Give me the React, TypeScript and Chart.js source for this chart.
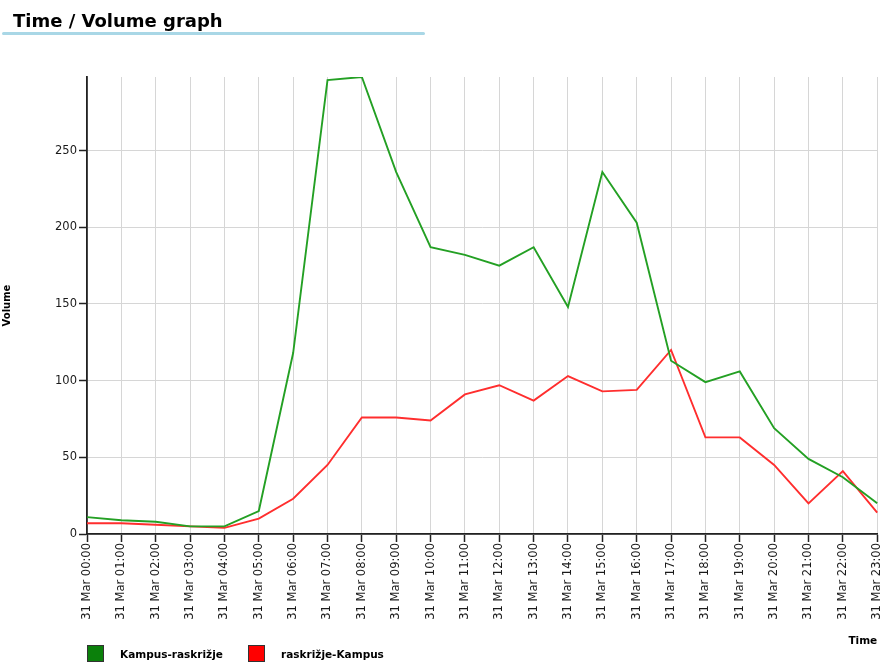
import React, { useEffect, useRef } from "react";
import { Chart, registerables } from "chart.js";

Chart.register(...registerables);

const hours = [
  "00:00", "01:00", "02:00", "03:00", "04:00", "05:00", "06:00", "07:00",
  "08:00", "09:00", "10:00", "11:00", "12:00", "13:00", "14:00", "15:00",
  "16:00", "17:00", "18:00", "19:00", "20:00", "21:00", "22:00", "23:00",
];
const categories = hours.map((h) => "31 Mar " + h);

const kampusRaskrizje = [11, 9, 8, 5, 5, 15, 118, 296, 298, 236, 187, 182, 175, 187, 148, 236, 203, 113, 99, 106, 69, 49, 37, 20];
const raskrizjeKampus = [7, 7, 6, 5, 4, 10, 23, 45, 76, 76, 74, 91, 97, 87, 103, 93, 94, 120, 63, 63, 45, 20, 41, 14];

const seriesNames = ["Kampus-raskrižje", "raskrižje-Kampus"];
const lineColors = ["#24a024", "#ff2e2e"];
const legendColors = ["#0b800b", "#ff0000"];

const yMax = 298;
const yTicks = [0, 50, 100, 150, 200, 250];

const FONT = "'DejaVu Sans', Verdana, sans-serif";
const CANVAS_W = 892;

export default function App() {
  const canvasRef = useRef<HTMLCanvasElement | null>(null);

  useEffect(() => {
    const ctx = canvasRef.current!;
    const chart = new Chart(ctx, {
      type: "line",
      data: {
        labels: categories,
        datasets: [
          {
            label: seriesNames[0],
            data: kampusRaskrizje,
            borderColor: lineColors[0],
            backgroundColor: lineColors[0],
            borderWidth: 1.9,
            pointRadius: 0,
            tension: 0,
            fill: false,
          },
          {
            label: seriesNames[1],
            data: raskrizjeKampus,
            borderColor: lineColors[1],
            backgroundColor: lineColors[1],
            borderWidth: 1.9,
            pointRadius: 0,
            tension: 0,
            fill: false,
          },
        ],
      },
      options: {
        animation: false,
        responsive: false,
        maintainAspectRatio: false,
        layout: { padding: { top: 77, left: 0, right: 0, bottom: 0 } },
        plugins: {
          legend: { display: false },
          tooltip: { enabled: false },
        },
        scales: {
          x: {
            afterFit: (scale: any) => {
              scale.height = 129;
            },
            grid: {
              color: "#d6d6d6",
              tickColor: "#222222",
              tickLength: 8,
              tickWidth: 1.5,
              lineWidth: 1,
            },
            border: { color: "#222222", width: 1.8 },
            ticks: {
              autoSkip: false,
              minRotation: 90,
              maxRotation: 90,
              padding: 1,
              color: "#1a1a1a",
              font: { family: FONT, size: 11.5 },
            },
            title: {
              display: true,
              text: "Time",
              align: "end",
              color: "#000000",
              font: { family: FONT, size: 10.5, weight: "bold" },
              padding: { top: 0, bottom: 15 },
            },
          },
          y: {
            min: 0,
            max: yMax,
            afterFit: (scale: any) => {
              scale.width = 87;
            },
            afterBuildTicks: (scale: any) => {
              scale.ticks = yTicks.map((v) => ({ value: v }));
            },
            grid: {
              color: "#d6d6d6",
              tickColor: "#222222",
              tickLength: 8,
              tickWidth: 1.5,
              lineWidth: 1,
            },
            border: { color: "#222222", width: 1.8 },
            ticks: {
              padding: 2,
              color: "#1a1a1a",
              font: { family: FONT, size: 11.5 },
            },
            title: {
              display: true,
              text: "Volume",
              color: "#000000",
              font: { family: FONT, size: 10, weight: "bold" },
              padding: { top: 1, bottom: 0 },
            },
          },
        },
      },
    });
    return () => chart.destroy();
  }, []);

  return (
    <div
      style={{
        position: "fixed",
        left: 0,
        top: 0,
        width: 883,
        height: 663,
        background: "#ffffff",
        overflow: "hidden",
        fontFamily: FONT,
      }}
    >
      <canvas
        ref={canvasRef}
        width={CANVAS_W}
        height={663}
        style={{ position: "absolute", left: 0, top: 0, width: CANVAS_W, height: 663 }}
      />
      <div
        style={{
          position: "absolute",
          left: 13,
          top: 10,
          fontSize: 18,
          fontWeight: "bold",
          color: "#000",
          whiteSpace: "nowrap",
          lineHeight: "21px",
        }}
      >
        Time / Volume graph
      </div>
      <div
        style={{
          position: "absolute",
          left: 2,
          top: 32,
          width: 423,
          height: 3,
          background: "#a9d7e6",
          borderRadius: 2,
        }}
      />
      {seriesNames.map((name, i) => (
        <React.Fragment key={name}>
          <div
            style={{
              position: "absolute",
              left: i === 0 ? 87 : 248,
              top: 645,
              width: 15,
              height: 15,
              background: legendColors[i],
              border: "1px solid #333",
            }}
          />
          <div
            style={{
              position: "absolute",
              left: i === 0 ? 120 : 281,
              top: 647,
              fontSize: 10.5,
              fontWeight: "bold",
              lineHeight: "14px",
              color: "#000",
              whiteSpace: "nowrap",
            }}
          >
            {name}
          </div>
        </React.Fragment>
      ))}
    </div>
  );
}
